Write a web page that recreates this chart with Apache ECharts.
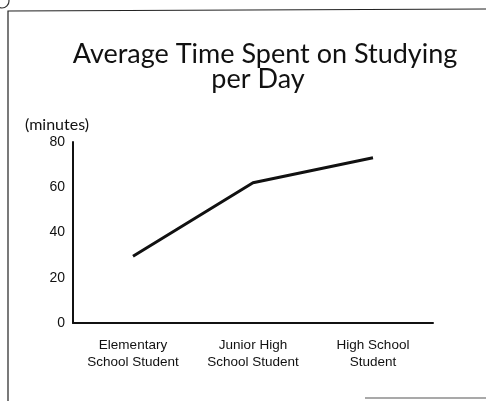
<!DOCTYPE html>
<html><head><meta charset="utf-8">
<script src="https://cdn.jsdelivr.net/npm/echarts@6/dist/echarts.min.js"></script>
<style>html,body{margin:0;padding:0;background:#fff}#c{width:486px;height:401px}</style>
</head><body><div id="c"></div>
<script>
const categories = ['Elementary\nSchool Student', 'Junior High\nSchool Student', 'High School\nStudent'];
const minutes = [29.5, 62, 73];
const yTicks = [0, 20, 40, 60, 80];
const titleLines = ['Average Time Spent on Studying', 'per Day'];

const chart = echarts.init(document.getElementById('c'));
chart.setOption({
  animation: false,
  backgroundColor: '#fff',
  graphic: [
    { type: 'polyline', shape: { points: [[8, 401], [8, 11], [486, 9]] }, style: { stroke: '#222', lineWidth: 1.2, fill: null } },
    { type: 'line', shape: { x1: 365, y1: 398, x2: 486, y2: 398 }, style: { stroke: '#555', lineWidth: 1.2 } },
    { type: 'circle', shape: { cx: 2, cy: 1, r: 7 }, style: { stroke: '#333', lineWidth: 1.2, fill: null } },
    { type: 'text', x: 265, y: 41, style: { text: titleLines[0], font: '27px Lato', fill: '#111', align: 'center' } },
    { type: 'text', x: 258, y: 66, style: { text: titleLines[1], font: '27px Lato', fill: '#111', align: 'center' } },
    { type: 'text', x: 25, y: 117, style: { text: '(minutes)', font: '16px Lato', fill: '#111' } }
  ],
  grid: { left: 73, top: 142, right: 53, bottom: 78 },
  xAxis: {
    type: 'category', data: categories, boundaryGap: true,
    axisLine: { lineStyle: { color: '#111', width: 2 } },
    axisTick: { show: false },
    axisLabel: { interval: 0, hideOverlap: false, fontFamily: 'Liberation Sans', fontSize: 13.5, color: '#111', margin: 14, lineHeight: 17 }
  },
  yAxis: {
    type: 'value', min: yTicks[0], max: yTicks[yTicks.length - 1], interval: 20,
    axisLine: { show: true, lineStyle: { color: '#111', width: 2 } },
    axisTick: { show: false },
    splitLine: { show: false },
    axisLabel: { fontFamily: 'Liberation Sans', fontSize: 14, color: '#111', margin: 8 }
  },
  series: [{
    type: 'line', data: minutes, symbol: 'none',
    lineStyle: { color: '#111', width: 3 }
  }]
});
</script></body></html>
